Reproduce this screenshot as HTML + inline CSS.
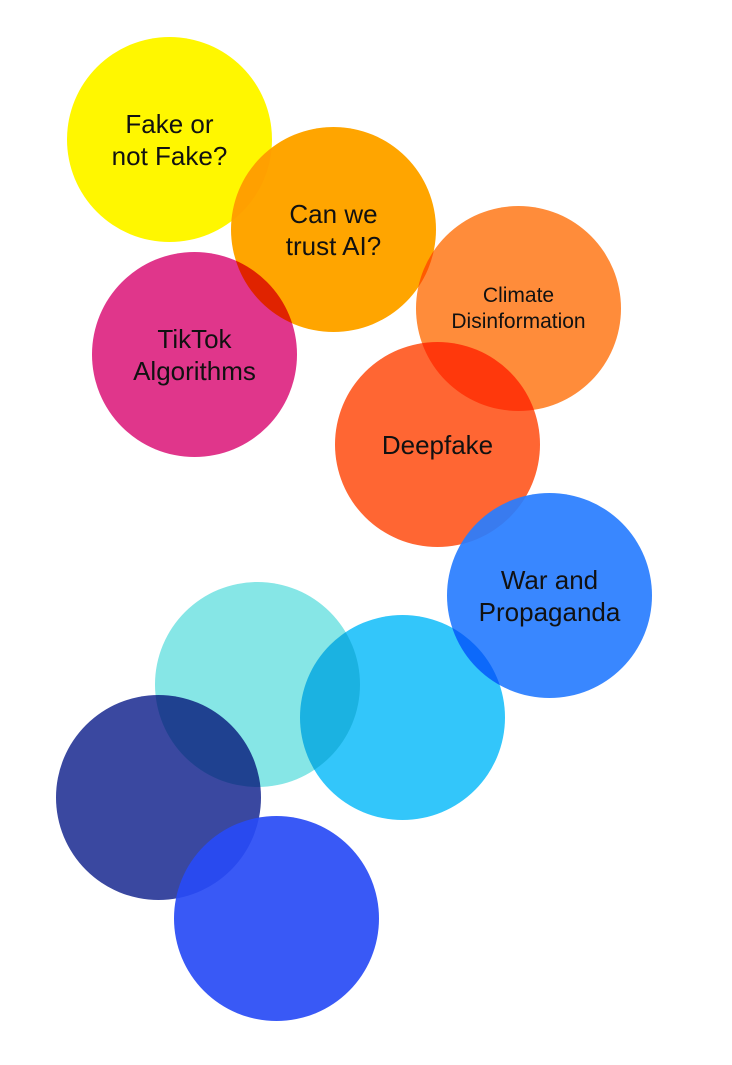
<!DOCTYPE html>
<html><head><meta charset="utf-8"><style>
html,body{margin:0;padding:0;background:#fff;}
body{width:732px;height:1065px;position:relative;overflow:hidden;font-family:"Liberation Sans",sans-serif;}
.c{position:absolute;width:205px;height:205px;border-radius:50%;mix-blend-mode:multiply;}
.t{position:absolute;width:205px;height:205px;display:flex;align-items:center;justify-content:center;text-align:center;color:#111;font-size:26px;line-height:32px;}
</style></head><body>
<div class="c" style="left:67px;top:37px;background:#FFF700"></div>
<div class="c" style="left:231px;top:127px;background:#FFA500"></div>
<div class="c" style="left:416px;top:206px;background:#FF8C3A"></div>
<div class="c" style="left:92px;top:252px;background:#E0368B"></div>
<div class="c" style="left:335px;top:342px;background:#FF6633"></div>
<div class="c" style="left:447px;top:493px;background:rgba(40,125,255,0.92);mix-blend-mode:normal"></div>
<div class="c" style="left:155px;top:582px;background:#86E6E6"></div>
<div class="c" style="left:300px;top:615px;background:#33C6FA"></div>
<div class="c" style="left:56px;top:695px;background:#3A48A0"></div>
<div class="c" style="left:174px;top:816px;background:rgba(40,75,245,0.92);mix-blend-mode:normal"></div>

<div class="t" style="left:67px;top:37px">Fake or<br>not Fake?</div>
<div class="t" style="left:231px;top:127px">Can we<br>trust AI?</div>
<div class="t" style="left:416px;top:206px;font-size:21px;line-height:26px">Climate<br>Disinformation</div>
<div class="t" style="left:92px;top:252px">TikTok<br>Algorithms</div>
<div class="t" style="left:335px;top:342px">Deepfake</div>
<div class="t" style="left:447px;top:493px">War and<br>Propaganda</div>
</body></html>
